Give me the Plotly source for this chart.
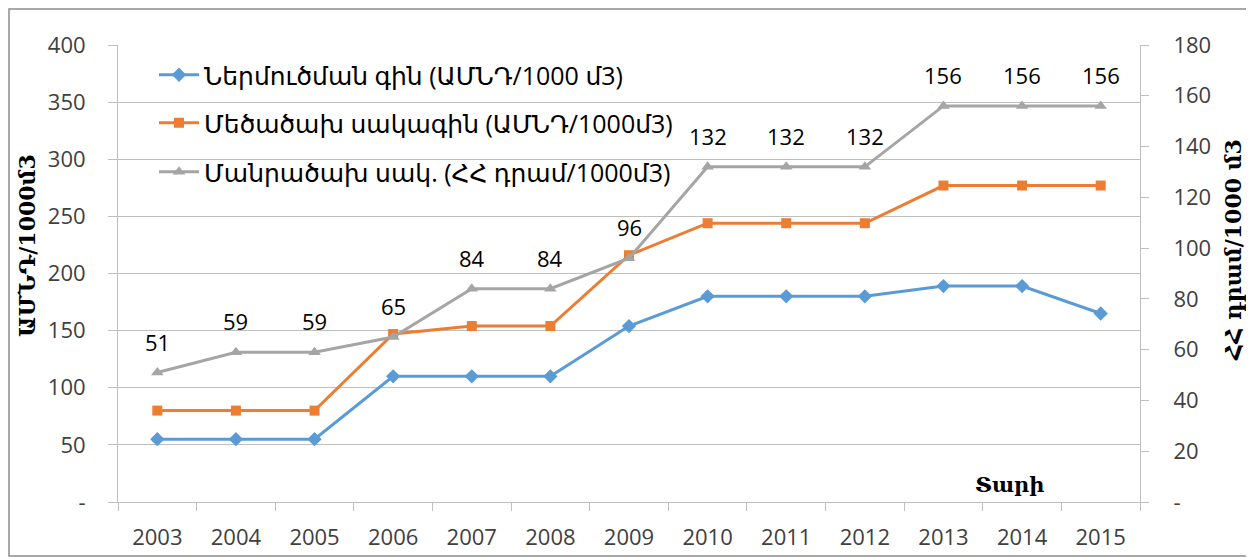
import plotly.graph_objects as go

years = ["2003", "2004", "2005", "2006", "2007", "2008", "2009", "2010", "2011", "2012", "2013", "2014", "2015"]
import_price = [55, 55, 55, 110, 110, 110, 154, 180, 180, 180, 189, 189, 165]
wholesale = [80, 80, 80, 147, 154, 154, 216, 244, 244, 244, 277, 277, 277]
retail = [51, 59, 59, 65, 84, 84, 96, 132, 132, 132, 156, 156, 156]

names = ["Ներմուծման գին (ԱՄՆԴ/1000 մ3)",
         "Մեծածախ սակագին (ԱՄՆԴ/1000մ3)",
         "Մանրածախ սակ. (ՀՀ դրամ/1000մ3)"]
left_title = "ԱՄՆԴ/1000մ3"
right_title = "ՀՀ դրամ/1000 մ3"
x_title = "Տարի"

left_ticks = [0, 50, 100, 150, 200, 250, 300, 350, 400]
right_ticks = [0, 20, 40, 60, 80, 100, 120, 140, 160, 180]

FONT = "Open Sans, Noto Sans, DejaVu Sans"
SERIF = "DejaVu Serif, Noto Sans"
TXT = "#404040"
GRID = "#bfbfbf"

# plot area in page pixels: x 118..1140, y 45..502 (page has an 8px body margin)
PX0, PX1, PY0, PY1 = 118, 1140, 45, 502
PW, PH = PX1 - PX0, PY1 - PY0


def px(x):
    return (x - PX0) / PW


def py(y):
    return (PY1 - y) / PH


fig = go.Figure()
fig.add_trace(go.Scatter(x=years, y=import_price, name=names[0], mode="lines+markers",
                         line=dict(color="#5b9bd5", width=3),
                         marker=dict(symbol="diamond", size=11, color="#5b9bd5"),
                         legend="legend"))
fig.add_trace(go.Scatter(x=years, y=wholesale, name=names[1], mode="lines+markers",
                         line=dict(color="#ed7d31", width=3),
                         marker=dict(symbol="square", size=10, color="#ed7d31"),
                         legend="legend2"))
fig.add_trace(go.Scatter(x=years, y=retail, name=names[2], mode="lines+markers",
                         line=dict(color="#a5a5a5", width=3),
                         marker=dict(symbol="triangle-up", size=11, color="#a5a5a5"),
                         yaxis="y2", legend="legend3"))

annotations = []
for i, v in enumerate(retail):
    annotations.append(dict(x=i, y=v, xref="x", yref="y2", text=str(v), showarrow=False,
                            yshift=31, font=dict(family=FONT, size=22, color="#000000")))
annotations.append(dict(x=px(1010), y=py(484), xref="paper", yref="paper", text="<b>" + x_title + "</b>",
                        xanchor="center", yanchor="middle",
                        showarrow=False, font=dict(family=SERIF, size=21, color="#000000")))
annotations.append(dict(x=px(27), y=py(246), xref="paper", yref="paper", text="<b>" + left_title + "</b>",
                        xanchor="center", yanchor="middle",
                        textangle=-90, showarrow=False, font=dict(family=SERIF, size=22, color="#000000")))
annotations.append(dict(x=px(1233), y=py(250), xref="paper", yref="paper", text="<b>" + right_title + "</b>",
                        xanchor="center", yanchor="middle",
                        textangle=-90, showarrow=False, font=dict(family=SERIF, size=22, color="#000000")))

leg_common = dict(bgcolor="rgba(0,0,0,0)", font=dict(family=FONT, size=25, color="#000000"),
                  xanchor="left", yanchor="middle", itemwidth=40)

W, H = 1254 - 8, 557 - 8
fig.update_layout(
    width=W, height=H,
    margin=dict(l=PX0 - 8, r=W - (PX1 - 8), t=PY0 - 8, b=H - (PY1 - 8), autoexpand=False),
    paper_bgcolor="white", plot_bgcolor="white",
    font=dict(family=FONT, size=22, color=TXT),
    showlegend=True,
    legend=dict(x=px(154), y=py(75), **leg_common),
    legend2=dict(x=px(154), y=py(123), **leg_common),
    legend3=dict(x=px(154), y=py(172), **leg_common),
    xaxis=dict(type="category", range=[-0.5, len(years) - 0.5], tickson="boundaries", automargin=False,
               ticks="outside", ticklen=8, tickcolor=GRID, tickangle=0, ticklabelstandoff=16,
               showline=True, linecolor=GRID, linewidth=1, showgrid=False,
               tickfont=dict(family=FONT, size=22, color=TXT)),
    yaxis=dict(range=[0, 400], tickvals=left_ticks, automargin=False,
               ticktext=["-" if t == 0 else str(t) for t in left_ticks],
               showgrid=True, gridcolor=GRID, gridwidth=1, zeroline=False,
               showline=True, linecolor=GRID, ticks="outside", ticklen=9, tickcolor=GRID,
               ticklabelstandoff=18,
               tickfont=dict(family=FONT, size=22, color=TXT)),
    yaxis2=dict(range=[0, 180], tickvals=right_ticks, overlaying="y", side="right", automargin=False,
                ticktext=["-" if t == 0 else str(t) for t in right_ticks],
                showgrid=False, zeroline=False,
                showline=True, linecolor=GRID, ticks="outside", ticklen=8, tickcolor=GRID,
                ticklabelstandoff=20,
                tickfont=dict(family=FONT, size=22, color=TXT)),
    annotations=annotations,
    shapes=[dict(type="rect", xref="paper", yref="paper",
                 x0=px(9), x1=px(1251), y0=py(556), y1=py(9),
                 line=dict(color="#8c8c8c", width=1.5), fillcolor="rgba(0,0,0,0)", layer="below")],
)

fig.write_html("out.html")
